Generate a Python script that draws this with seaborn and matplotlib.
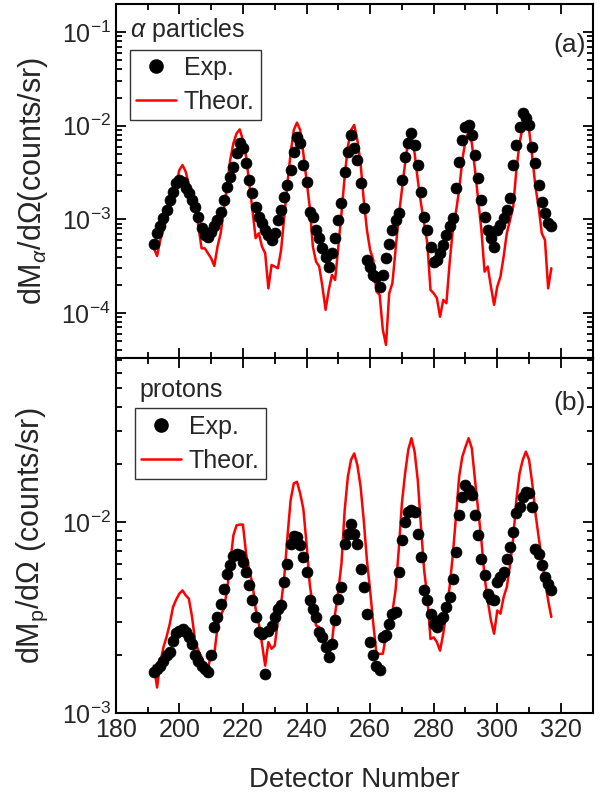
import numpy as np
import pandas as pd
import matplotlib
matplotlib.use('Agg')
import matplotlib.pyplot as plt
from matplotlib.ticker import MultipleLocator, LogLocator, NullFormatter
from matplotlib.lines import Line2D
import seaborn as sns

# detector numbers (one point per detector)
detector = list(range(192, 318))

# (a) alpha particles
alpha_exp = [5.5e-4, 7.1e-4, 8.4e-4, 1.03e-3, 1.26e-3, 1.61e-3, 1.97e-3, 2.42e-3, 2.63e-3, 2.52e-3,
             2.14e-3, 1.90e-3, 1.61e-3, 1.36e-3, 1.07e-3, 8.0e-4, 6.8e-4, 6.5e-4, 7.4e-4, 8.4e-4,
             9.8e-4, 1.21e-3, 1.61e-3, 2.23e-3, 2.86e-3, 3.65e-3, 5.07e-3, 6.5e-3, 5.73e-3, 3.96e-3,
             2.63e-3, 1.90e-3, 1.36e-3, 1.07e-3, 9.1e-4, 7.7e-4, 6.8e-4, 6.0e-4, 7.1e-4, 9.8e-4,
             1.26e-3, 1.75e-3, 2.33e-3, 3.36e-3, 5.28e-3, 7.63e-3, 6.5e-3, 3.80e-3, 2.52e-3, 1.21e-3,
             1.07e-3, 7.7e-4, 6.3e-4, 4.9e-4, 4.0e-4, 3.13e-4, 4.34e-4, 6.3e-4, 9.8e-4, 1.48e-3,
             3.23e-3, 5.28e-3, 7.94e-3, 5.73e-3, 4.30e-3, 2.42e-3, 1.31e-3, 3.68e-4, 3.13e-4, 2.55e-4,
             2.44e-4, 1.91e-4, 2.55e-4, 3.84e-4, 5.5e-4, 7.7e-4, 9.8e-4, 1.16e-3, 2.63e-3, 4.67e-3,
             6.5e-3, 8.28e-3, 6.22e-3, 3.80e-3, 1.97e-3, 1.07e-3, 7.7e-4, 5.1e-4, 3.53e-4, 3.68e-4,
             4.34e-4, 5.3e-4, 6.8e-4, 8.4e-4, 1.03e-3, 2.14e-3, 4.13e-3, 7.03e-3, 9.75e-3, 1.02e-2,
             7.94e-3, 4.86e-3, 2.74e-3, 1.61e-3, 1.07e-3, 7.7e-4, 6.3e-4, 5.1e-4, 7.7e-4, 8.7e-4,
             1.03e-3, 1.26e-3, 1.68e-3, 3.80e-3, 6.22e-3, 9.75e-3, 1.36e-2, 1.20e-2, 1.02e-2, 5.97e-3,
             3.96e-3, 2.33e-3, 1.55e-3, 1.16e-3, 9.1e-4, 8.4e-4]
alpha_theor = [4.9e-4, 4.06e-4, 6.0e-4, 7.7e-4, 1.03e-3, 1.31e-3, 1.75e-3, 2.33e-3, 3.36e-3, 3.80e-3,
               3.23e-3, 2.33e-3, 1.75e-3, 1.36e-3, 8.4e-4, 4.9e-4, 4.9e-4, 4.34e-4, 3.84e-4, 3.18e-4,
               5.1e-4, 7.1e-4, 1.26e-3, 2.23e-3, 4.30e-3, 6.5e-3, 8.28e-3, 9.14e-3, 7.03e-3, 4.67e-3,
               2.42e-3, 1.26e-3, 6.3e-4, 7.1e-4, 5.1e-4, 4.34e-4, 1.83e-4, 3.25e-4, 3.13e-4, 3.0e-4,
               4.7e-4, 1.07e-3, 2.42e-3, 5.07e-3, 9.0e-3, 1.08e-2, 9.0e-3, 5.07e-3, 2.63e-3, 1.36e-3,
               5.1e-4, 3.53e-4, 3.13e-4, 1.91e-4, 1.08e-4, 1.76e-4, 2.55e-4, 2.25e-4, 5.1e-4, 1.16e-3,
               2.86e-3, 5.97e-3, 9.0e-3, 1.02e-2, 7.03e-3, 3.96e-3, 1.61e-3, 7.7e-4, 4.71e-4, 3.68e-4,
               1.69e-4, 1.56e-4, 6.6e-5, 4.55e-5, 1.62e-4, 2.07e-4, 4.71e-4, 1.07e-3, 2.06e-3, 3.96e-3,
               7.03e-3, 8.28e-3, 5.07e-3, 2.63e-3, 1.48e-3, 9.1e-4, 5.5e-4, 1.76e-4, 1.62e-4, 1.44e-4,
               9.1e-5, 1.38e-4, 1.27e-4, 3.39e-4, 7.7e-4, 1.2e-3, 2.06e-3, 4.30e-3, 7.03e-3, 8.63e-3,
               6.5e-3, 3.36e-3, 1.61e-3, 7.7e-4, 2.76e-4, 3.13e-4, 1.91e-4, 1.22e-4, 1.91e-4, 2.44e-4,
               4.0e-4, 7.1e-4, 9.8e-4, 1.36e-3, 3.36e-3, 6.5e-3, 9.75e-3, 1.25e-2, 9.0e-3, 4.67e-3,
               2.23e-3, 1.36e-3, 7.1e-4, 6.0e-4, 1.83e-4, 3.0e-4]

# (b) protons
proton_exp = [1.63e-3, 1.70e-3, 1.77e-3, 1.88e-3, 2.00e-3, 2.08e-3, 2.39e-3, 2.62e-3, 2.70e-3, 2.76e-3,
              2.65e-3, 2.49e-3, 2.30e-3, 2.00e-3, 1.88e-3, 1.77e-3, 1.70e-3, 1.63e-3, 2.00e-3, 2.81e-3,
              3.18e-3, 3.73e-3, 4.47e-3, 5.32e-3, 5.93e-3, 6.61e-3, 6.76e-3, 6.68e-3, 6.17e-3, 5.47e-3,
              4.66e-3, 3.88e-3, 3.18e-3, 2.65e-3, 2.60e-3, 1.60e-3, 2.70e-3, 2.87e-3, 3.18e-3, 3.51e-3,
              3.66e-3, 4.85e-3, 6.05e-3, 7.70e-3, 8.41e-3, 8.35e-3, 7.55e-3, 6.55e-3, 5.47e-3, 3.88e-3,
              3.51e-3, 3.18e-3, 2.65e-3, 2.49e-3, 2.21e-3, 1.96e-3, 2.30e-3, 3.05e-3, 3.96e-3, 4.56e-3,
              7.70e-3, 8.69e-3, 9.80e-3, 8.69e-3, 7.70e-3, 5.69e-3, 4.56e-3, 3.31e-3, 2.35e-3, 2.00e-3,
              1.77e-3, 1.67e-3, 2.49e-3, 2.55e-3, 2.93e-3, 3.31e-3, 3.37e-3, 5.47e-3, 8.01e-3, 1.00e-2,
              1.13e-2, 1.16e-2, 1.13e-2, 8.69e-3, 6.55e-3, 4.38e-3, 3.88e-3, 3.31e-3, 2.93e-3, 2.81e-3,
              3.05e-3, 3.18e-3, 3.58e-3, 4.04e-3, 5.05e-3, 6.96e-3, 1.08e-2, 1.35e-2, 1.56e-2, 1.47e-2,
              1.38e-2, 1.08e-2, 8.51e-3, 6.42e-3, 5.25e-3, 4.21e-3, 3.96e-3, 3.88e-3, 4.85e-3, 5.15e-3,
              5.47e-3, 6.42e-3, 7.40e-3, 8.87e-3, 1.11e-2, 1.20e-2, 1.35e-2, 1.44e-2, 1.41e-2, 1.20e-2,
              7.25e-3, 6.82e-3, 5.93e-3, 5.15e-3, 4.75e-3, 4.42e-3]
proton_theor = [1.77e-3, 1.36e-3, 1.84e-3, 2.21e-3, 2.51e-3, 2.93e-3, 3.58e-3, 3.92e-3, 4.21e-3, 4.38e-3,
                4.13e-3, 3.96e-3, 3.18e-3, 2.35e-3, 2.12e-3, 1.96e-3, 1.77e-3, 1.70e-3, 2.04e-3, 2.04e-3,
                2.81e-3, 3.24e-3, 3.51e-3, 4.38e-3, 6.05e-3, 8.51e-3, 9.60e-3, 9.68e-3, 9.68e-3, 6.82e-3,
                5.58e-3, 4.75e-3, 3.51e-3, 2.93e-3, 2.30e-3, 1.77e-3, 2.35e-3, 2.17e-3, 2.25e-3, 3.05e-3,
                3.73e-3, 5.15e-3, 8.35e-3, 1.30e-2, 1.59e-2, 1.62e-2, 1.41e-2, 1.17e-2, 7.70e-3, 4.75e-3,
                3.58e-3, 2.87e-3, 2.81e-3, 2.60e-3, 2.17e-3, 1.92e-3, 2.35e-3, 3.31e-3, 4.38e-3, 6.05e-3,
                1.15e-2, 1.72e-2, 2.11e-2, 2.28e-2, 1.98e-2, 1.53e-2, 1.02e-2, 6.29e-3, 4.38e-3, 2.93e-3,
                2.04e-3, 2.04e-3, 2.04e-3, 2.55e-3, 3.11e-3, 3.37e-3, 4.38e-3, 7.10e-3, 1.25e-2, 1.79e-2,
                2.38e-2, 2.74e-2, 2.33e-2, 1.65e-2, 9.42e-3, 5.58e-3, 4.04e-3, 2.44e-3, 2.49e-3, 2.35e-3,
                2.12e-3, 2.60e-3, 3.37e-3, 4.56e-3, 6.68e-3, 1.06e-2, 1.72e-2, 2.19e-2, 2.47e-2, 2.74e-2,
                2.42e-2, 1.65e-2, 1.15e-2, 8.01e-3, 5.15e-3, 3.88e-3, 3.05e-3, 2.60e-3, 3.44e-3, 3.31e-3,
                4.04e-3, 4.56e-3, 5.93e-3, 8.18e-3, 1.30e-2, 1.79e-2, 2.11e-2, 2.33e-2, 2.11e-2, 1.59e-2,
                1.11e-2, 8.35e-3, 6.42e-3, 4.95e-3, 3.88e-3, 3.18e-3]

sns.set_style('ticks')
plt.rcParams['font.family'] = ['Liberation Sans', 'DejaVu Sans']
plt.rcParams['mathtext.fontset'] = 'custom'
plt.rcParams['mathtext.rm'] = 'Liberation Sans'
plt.rcParams['mathtext.it'] = 'Liberation Sans:italic'

fig = plt.figure(figsize=(6.06, 7.95), dpi=100)
ax1 = fig.add_axes([0.191, 0.5497, 0.787, 0.4453])
ax2 = fig.add_axes([0.191, 0.1031, 0.787, 0.4466])

df_a = pd.DataFrame({'det': detector, 'exp': alpha_exp, 'theor': alpha_theor})
df_p = pd.DataFrame({'det': detector, 'exp': proton_exp, 'theor': proton_theor})

panels = [
    (ax1, df_a, (3.3e-5, 0.2), r'dM$_{\alpha}$/d$\Omega$(counts/sr)', r'$\alpha$ particles', '(a)',
     (0.927, 0.885), (0.03, 0.87), 0.03),
    (ax2, df_p, (1e-3, 0.072), r'dM$_{\rm p}$/d$\Omega$ (counts/sr)', 'protons', '(b)',
     (0.91, 0.873), (0.04, 0.858), 0.05),
]

for ax, d, ylim, ylab, name, tag, ty, lpos, nx in panels:
    sns.lineplot(data=d, x='det', y='theor', color='red', lw=1.8, ax=ax, zorder=2)
    sns.scatterplot(data=d, x='det', y='exp', color='black', s=62, edgecolor='black',
                    linewidth=0.5, ax=ax, zorder=3)
    ax.set_yscale('log')
    ax.set_xlim(180, 330)
    ax.set_ylim(*ylim)
    ax.xaxis.set_major_locator(MultipleLocator(20))
    ax.xaxis.set_minor_locator(MultipleLocator(10))
    ax.yaxis.set_major_locator(LogLocator(base=10, numticks=10))
    ax.yaxis.set_minor_locator(LogLocator(base=10, subs=np.arange(2, 10), numticks=20))
    ax.yaxis.set_minor_formatter(NullFormatter())
    ax.tick_params(which='both', direction='in', top=True, right=True, width=1.3,
                   labelsize=18, color='black')
    ax.tick_params(which='major', length=7)
    ax.tick_params(which='minor', length=4)
    for sp in ax.spines.values():
        sp.set_linewidth(1.5)
        sp.set_color('black')
    ax.set_ylabel(ylab, fontsize=22)
    ax.yaxis.set_label_coords(-0.138, 0.5)
    ax.set_xlabel('')
    ax.text(nx, ty[0], name, transform=ax.transAxes, fontsize=18, va='center', ha='left')
    ax.text(0.985, ty[1], tag, transform=ax.transAxes, fontsize=19, va='center', ha='right')
    handles = [Line2D([], [], marker='o', ls='none', color='black', markersize=9.5),
               Line2D([], [], color='red', lw=1.8)]
    leg = ax.legend(handles, ['Exp.', 'Theor.'], loc='upper left', bbox_to_anchor=lpos,
                    fontsize=18, frameon=True, fancybox=False, edgecolor='black',
                    handlelength=1.6, handletextpad=0.3, borderpad=0.25, labelspacing=0.4,
                    borderaxespad=0)
    leg.get_frame().set_linewidth(1.0)

ax1.tick_params(labelbottom=False)
ax2.set_xlabel('Detector Number', fontsize=20, labelpad=18)

fig.savefig('out.png', dpi=100, facecolor='white')
